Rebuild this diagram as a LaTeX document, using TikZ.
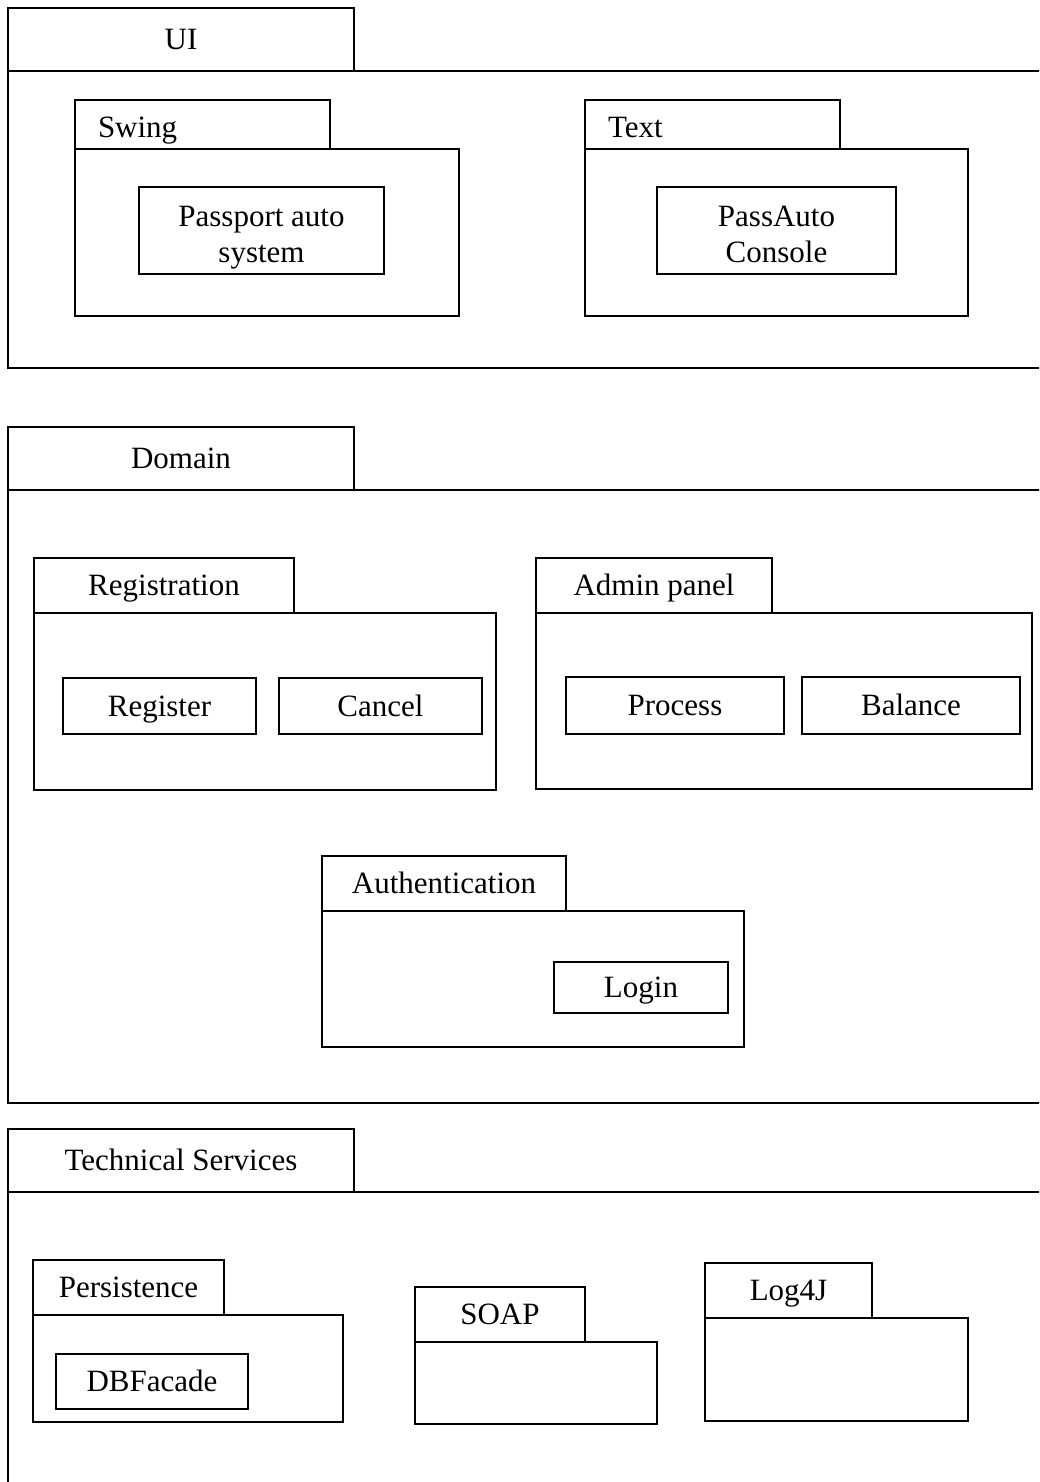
\documentclass[tikz,border=0pt]{standalone}
\usepackage{fontspec}
\setmainfont{Liberation Serif}

\begin{document}
\begin{tikzpicture}[x=1pt, y=-1pt, line width=2pt, font=\fontsize{31}{36}\selectfont,
  pkgtab/.style={rectangle, draw, anchor=north west, inner sep=0pt, outer sep=0pt, text height=20.5pt, text depth=0pt},
  pkgbody/.style={rectangle, draw, anchor=north west, inner sep=0pt, outer sep=0pt},
  lefttab/.style={pkgtab, text width=209pt, inner xsep=23pt, align=left, text height=26.5pt},
  block/.style={rectangle, draw, anchor=north west, inner sep=0pt, outer sep=0pt, text height=20.5pt, text depth=0pt},
  twoline/.style={align=center, inner sep=0pt, yshift=-7pt}]
  {
  \useasboundingbox (0,0) rectangle (1039,1482);
  \clip (0,0) rectangle (1039,1482);

  \node[pkgtab, minimum width=346pt, minimum height=63pt] (ui) at (8,8) {UI};
  \node[pkgbody, minimum width=1100pt, minimum height=297pt] (uibody) at (ui.south west) {};
  \node[lefttab, minimum width=255pt, minimum height=49pt] (swing) at (75,100) {Swing};
  \node[pkgbody, minimum width=384pt, minimum height=167pt] (swingbody) at (swing.south west) {};
  \node[block, minimum width=245pt, minimum height=87pt] (passport) at (139,187) {};
  \node[twoline] (passporttxt) at (passport.center) {Passport auto\\system};
  \node[lefttab, minimum width=255pt, minimum height=49pt] (text) at (585,100) {Text};
  \node[pkgbody, minimum width=383pt, minimum height=167pt] (textbody) at (text.south west) {};
  \node[block, minimum width=239pt, minimum height=87pt] (console) at (657,187) {};
  \node[twoline, yshift=3pt] (consoletxt) at (console.center) {PassAuto\\Console};

  \node[pkgtab, minimum width=346pt, minimum height=63pt] (domain) at (8,427) {Domain};
  \node[pkgbody, minimum width=1100pt, minimum height=613pt] (domainbody) at (domain.south west) {};
  \node[pkgtab, minimum width=260pt, minimum height=55pt] (reg) at (34,558) {Registration};
  \node[pkgbody, minimum width=462pt, minimum height=177pt] (regbody) at (reg.south west) {};
  \node[block, minimum width=193pt, minimum height=56pt] (register) at (63,678) {Register};
  \node[block, minimum width=203pt, minimum height=56pt] (cancel) at (279,678) {Cancel};
  \node[pkgtab, minimum width=236pt, minimum height=55pt] (admin) at (536,558) {Admin panel};
  \node[pkgbody, minimum width=496pt, minimum height=176pt] (adminbody) at (admin.south west) {};
  \node[block, minimum width=218pt, minimum height=57pt] (process) at (566,677) {Process};
  \node[block, minimum width=218pt, minimum height=57pt] (balance) at (802,677) {Balance};
  \node[pkgtab, minimum width=244pt, minimum height=55pt] (auth) at (322,856) {Authentication};
  \node[pkgbody, minimum width=422pt, minimum height=136pt] (authbody) at (auth.south west) {};
  \node[block, minimum width=174pt, minimum height=51pt] (login) at (554,962) {Login};

  \node[pkgtab, minimum width=346pt, minimum height=63pt] (tech) at (8,1129) {Technical Services};
  \node[pkgbody, minimum width=1100pt, minimum height=400pt] (techbody) at (tech.south west) {};
  \node[pkgtab, minimum width=191pt, minimum height=55pt] (persist) at (33,1260) {Persistence};
  \node[pkgbody, minimum width=310pt, minimum height=107pt] (persistbody) at (persist.south west) {};
  \node[block, minimum width=192pt, minimum height=55pt] (dbfacade) at (56,1354) {DBFacade};
  \node[pkgtab, minimum width=170pt, minimum height=55pt] (soap) at (415,1287) {SOAP};
  \node[pkgbody, minimum width=242pt, minimum height=82pt] (soapbody) at (soap.south west) {};
  \node[pkgtab, minimum width=167pt, minimum height=55pt] (log) at (705,1263) {Log4J};
  \node[pkgbody, minimum width=263pt, minimum height=103pt] (logbody) at (log.south west) {};
  }
\end{tikzpicture}
\end{document}
